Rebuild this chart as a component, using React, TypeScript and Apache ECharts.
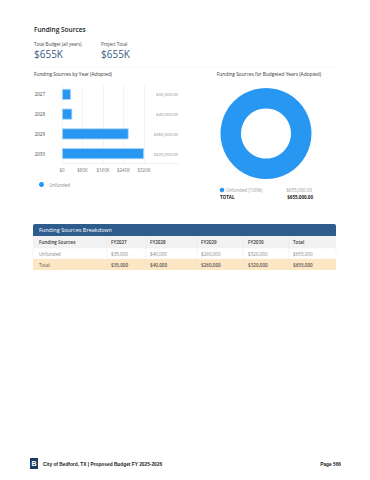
import React, { useEffect, useRef } from "react";
import * as echarts from "echarts";

const years = ["2027", "2028", "2029", "2030"];
const unfunded = [35000, 40000, 260000, 320000];
const xTickMax = 320000;
const xTickStep = 80000;
const sourceName = "Unfunded";
const tableTitle = "Funding Sources Breakdown";
const tableHeaders = ["Funding Sources", "FY2027", "FY2028", "FY2029", "FY2030", "Total"];
const footerText = "City of Bedford, TX | Proposed Budget FY 2025-2026";
const pageText = "Page 566";

const BLUE = "#2797f2";
const FONT = "Open Sans";

const fmtCents = (v: number) => "$" + v.toLocaleString("en-US", { minimumFractionDigits: 2, maximumFractionDigits: 2 });
const fmtWhole = (v: number) => "$" + v.toLocaleString("en-US");
const fmtK = (v: number) => (v === 0 ? "$0" : "$" + Math.round(v / 1000) + "K");

export default function App() {
  const ref = useRef<HTMLDivElement>(null);
  useEffect(() => {
    document.body.style.margin = "0";
    const chart = echarts.init(ref.current!, null, { renderer: "svg" });
    const total = unfunded.reduce((a, b) => a + b, 0);
    const rowUnfunded = [sourceName, ...unfunded.map(fmtWhole), fmtWhole(total)];
    const rowTotal = ["Total", ...unfunded.map(fmtWhole), fmtWhole(total)];
    const colX = [39, 111, 150, 201, 248, 293];
    const colDiv = [107, 146, 197, 243, 289];
    const tL = 33, tR = 336;

    const txt = (x: number, y: number, text: string, o: any = {}) => ({
      type: "text",
      x,
      y,
      silent: true,
      style: {
        text,
        fontSize: o.size ?? 5,
        fontFamily: o.family ?? FONT,
        fontWeight: o.weight ?? "normal",
        fill: o.color ?? "#333",
        align: o.align ?? "left",
        verticalAlign: "middle",
      },
    });

    const graphics: any[] = [
      txt(34, 29, "Funding Sources", { size: 6.5, weight: 600, color: "#222" }),
      txt(34, 44, "Total Budget (all years)", { size: 4.5, color: "#444" }),
      txt(34, 54, "$" + Math.round(total / 1000) + "K", { size: 10, color: "#3b5b86" }),
      txt(101, 44, "Project Total", { size: 4.5, color: "#444" }),
      txt(101, 54, "$" + Math.round(total / 1000) + "K", { size: 10, color: "#3b5b86" }),
      { type: "line", shape: { x1: 34, y1: 67, x2: 336, y2: 67 }, style: { stroke: "#e6e6e6", lineWidth: 0.6, lineDash: [1, 1] } },
      txt(34, 74, "Funding Sources by Year (Adopted)", { size: 4.8, color: "#333" }),
      txt(269, 74, "Funding Sources for Budgeted Years (Adopted)", { size: 4.8, color: "#333", align: "center" }),
      { type: "line", shape: { x1: 144, y1: 163.5, x2: 179, y2: 163.5 }, style: { stroke: "#e8e8e8", lineWidth: 0.6 } },
      // donut legend
      { type: "circle", shape: { cx: 222, cy: 190, r: 2.3 }, style: { fill: BLUE } },
      txt(226, 190, sourceName + " (100%)", { size: 4.5, color: "#999" }),
      txt(312, 190, fmtCents(total), { size: 4.5, color: "#999", align: "right" }),
      txt(220, 196.5, "TOTAL", { size: 4.5, color: "#222", weight: "bold" }),
      txt(313, 196.5, fmtCents(total), { size: 4.5, color: "#222", weight: "bold", align: "right" }),
      // table
      { type: "rect", shape: { x: tL, y: 224, width: tR - tL, height: 12, r: [2, 2, 0, 0] }, style: { fill: "#2e5c8c" } },
      txt(39, 230, tableTitle, { size: 5.5, color: "#ffffff" }),
      { type: "rect", shape: { x: tL, y: 236, width: tR - tL, height: 12 }, style: { fill: "#f2f2f2" } },
      { type: "rect", shape: { x: tL, y: 248, width: tR - tL, height: 11 }, style: { fill: "#ffffff", stroke: "#ececec", lineWidth: 0.5 } },
      { type: "rect", shape: { x: tL, y: 259, width: tR - tL, height: 11 }, style: { fill: "#fde6c4" } },
      ...colDiv.map((x) => ({ type: "line", shape: { x1: x, y1: 236, x2: x, y2: 270 }, style: { stroke: "#e6e6e6", lineWidth: 0.5 } })),
      ...tableHeaders.map((h, i) => txt(colX[i], 242, h, { size: 4.6, weight: 600, color: "#333" })),
      ...rowUnfunded.map((h, i) => txt(colX[i], 253.5, h, { size: 4.6, color: "#888" })),
      ...rowTotal.map((h, i) => txt(colX[i], 264.5, h, { size: 4.6, color: "#555", weight: i === 0 ? "normal" : 600 })),
      // footer
      { type: "rect", shape: { x: 30, y: 458, width: 8, height: 11 }, style: { fill: "#1f3a63" } },
      txt(34, 463.8, "B", { size: 7, weight: "bold", color: "#ffffff", align: "center", family: "Liberation Sans" }),
      txt(43, 464, footerText, { size: 4.8, weight: "bold", color: "#222", family: "Liberation Sans" }),
      txt(341, 464, pageText, { size: 4.8, weight: "bold", color: "#222", family: "Liberation Sans", align: "right" }),
    ];

    chart.setOption({
      animation: false,
      textStyle: { fontFamily: FONT },
      grid: { left: 62, width: 82, top: 84.5, height: 79, containLabel: false },
      legend: {
        data: [sourceName],
        left: 34,
        top: 177,
        icon: "circle",
        itemWidth: 5,
        itemHeight: 5,
        itemGap: 4,
        itemStyle: { borderWidth: 0, color: BLUE },
        textStyle: { fontSize: 4.5, color: "#888", fontFamily: FONT },
      },
      xAxis: {
        type: "value",
        min: 0,
        max: xTickMax,
        interval: xTickStep,
        axisLine: { show: true, lineStyle: { color: "#e8e8e8", width: 0.6 } },
        axisTick: { show: false },
        splitLine: { show: true, lineStyle: { color: "#eeeeee", width: 0.6 } },
        axisLabel: { fontSize: 4.5, color: "#777", margin: 4, formatter: (v: number) => fmtK(v) },
      },
      yAxis: [
        {
          type: "category",
          data: years,
          inverse: true,
          axisLine: { show: false },
          axisTick: { show: false },
          axisLabel: { fontSize: 4.5, color: "#444", margin: 17 },
        },
        {
          type: "category",
          data: unfunded.map(fmtCents),
          inverse: true,
          position: "right",
          axisLine: { show: false },
          axisTick: { show: false },
          axisLabel: { fontSize: 4.3, color: "#888", margin: 34, align: "right" },
        },
      ],
      series: [
        {
          name: sourceName,
          type: "bar",
          data: unfunded,
          barWidth: 11,
          itemStyle: { color: BLUE, borderColor: "#a9d4fa", borderWidth: 0.8 },
        },
        {
          name: sourceName,
          type: "pie",
          center: [266, 133.5],
          radius: [25, 45.5],
          label: { show: false },
          labelLine: { show: false },
          silent: true,
          data: [{ name: sourceName, value: total }],
          itemStyle: { color: BLUE },
        },
      ],
      graphic: graphics,
    });
    return () => chart.dispose();
  }, []);
  return <div ref={ref} style={{ width: 370, height: 480, background: "#fff" }} />;
}
